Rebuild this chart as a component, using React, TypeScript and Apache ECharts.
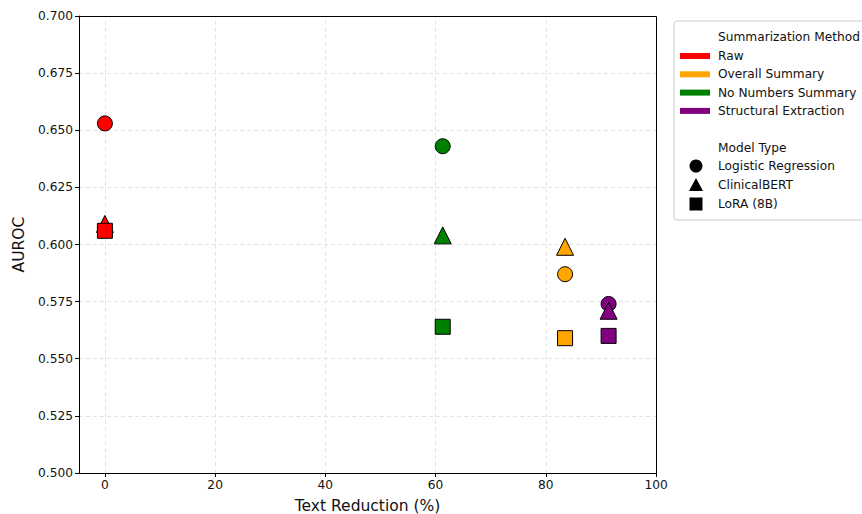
import React, { useEffect, useRef } from "react";
import * as echarts from "echarts";

const methods = ["Raw", "Overall Summary", "No Numbers Summary", "Structural Extraction"];
const methodColors = ["#ff0000", "#ffa500", "#008000", "#800080"];
const textReduction = [0, 83.5, 61.3, 91.4];
const logisticAuroc = [0.653, 0.587, 0.643, 0.574];
const clinicalBertAuroc = [0.609, 0.599, 0.604, 0.571];
const loraAuroc = [0.606, 0.559, 0.564, 0.560];
const modelTypes = ["Logistic Regression", "ClinicalBERT", "LoRA (8B)"];
const modelSymbols = ["circle", "triangle", "rect"];
const xTicks = [0, 20, 40, 60, 80, 100];

const FONT = "DejaVu Sans";

export default function App() {
  const ref = useRef<HTMLDivElement>(null);
  useEffect(() => {
    if (!ref.current) return;
    const chart = echarts.init(ref.current, null, { renderer: "svg" });
    const values = [logisticAuroc, clinicalBertAuroc, loraAuroc];
    const sizes = [15, 17, 15];
    const series: any[] = [
      {
        type: "scatter",
        data: [],
        silent: true,
        z: 0,
        markLine: {
          silent: true,
          z: 0,
          symbol: "none",
          label: { show: false },
          lineStyle: { color: "#dddddd", type: [4, 3], width: 0.8 },
          data: xTicks.map((t) => ({ xAxis: t })),
        },
      },
    ];
    modelTypes.forEach((m, mi) =>
      series.push({
        type: "scatter",
        name: m,
        symbol: modelSymbols[mi],
        symbolSize: sizes[mi],
        z: 5 + mi,
        data: methods.map((_, i) => ({
          value: [textReduction[i], values[mi][i]],
          itemStyle: { color: methodColors[i], borderColor: "#000", borderWidth: 1, opacity: 1 },
        })),
      })
    );
    const g: any[] = [];
    g.push({
      type: "rect",
      shape: { x: 79.5, y: 16.5, width: 577, height: 457 },
      style: { fill: "none", stroke: "#000", lineWidth: 1 },
      z: 20,
      silent: true,
    });
    g.push({
      type: "rect",
      shape: { x: 674, y: 21, width: 200, height: 199, r: 3 },
      style: { fill: "#fff", stroke: "#cccccc", lineWidth: 1 },
      z: 10,
    });
    const txt = (s: string, x: number, y: number) => ({
      type: "text",
      x,
      y,
      style: { text: s, font: `12.2px "${FONT}"`, fill: "#111", verticalAlign: "middle" },
      z: 11,
    });
    g.push(txt("Summarization Method", 718, 37));
    methods.forEach((m, i) => {
      const y = 56 + i * 18.3;
      g.push({
        type: "rect",
        shape: { x: 680, y: y - 3, width: 30, height: 6 },
        style: { fill: methodColors[i] },
        z: 11,
      });
      g.push(txt(m, 718, y));
    });
    g.push(txt("Model Type", 718, 148));
    const my = [166, 185, 204];
    g.push({ type: "circle", shape: { cx: 696, cy: my[0], r: 6.5 }, style: { fill: "#000" }, z: 11 });
    g.push({
      type: "polygon",
      shape: { points: [[696, my[1] - 7], [703, my[1] + 6], [689, my[1] + 6]] },
      style: { fill: "#000" },
      z: 11,
    });
    g.push({
      type: "rect",
      shape: { x: 689.5, y: my[2] - 6.5, width: 13, height: 13 },
      style: { fill: "#000" },
      z: 11,
    });
    modelTypes.forEach((m, i) => g.push(txt(m, 718, my[i])));

    chart.setOption({
      animation: false,
      backgroundColor: "#fff",
      grid: {
        left: 79,
        right: 206,
        top: 16,
        bottom: 41,
        outerBoundsMode: "none",
        containLabel: false,
        show: false,
      },
      xAxis: {
        type: "value",
        min: -4.7,
        max: 100,
        name: "Text Reduction (%)",
        nameLocation: "middle",
        nameGap: 25,
        nameTextStyle: { fontFamily: FONT, fontSize: 15.5, color: "#111" },
        axisLine: { show: true, onZero: false, lineStyle: { color: "#000" } },
        axisTick: { show: true, length: 4, lineStyle: { color: "#000" }, customValues: xTicks },
        axisLabel: { fontFamily: FONT, fontSize: 12.2, color: "#111", margin: 6, customValues: xTicks },
        splitLine: { show: false },
      },
      yAxis: {
        type: "value",
        min: 0.5,
        max: 0.7,
        interval: 0.025,
        name: "AUROC",
        nameLocation: "middle",
        nameGap: 50,
        nameTextStyle: { fontFamily: FONT, fontSize: 15.5, color: "#111" },
        axisLine: { show: true, onZero: false, lineStyle: { color: "#000" } },
        axisTick: { show: true, length: 4, lineStyle: { color: "#000" } },
        axisLabel: {
          fontFamily: FONT,
          fontSize: 12.2,
          color: "#111",
          margin: 6,
          formatter: (v: number) => v.toFixed(3),
        },
        splitLine: { show: true, lineStyle: { color: "#dddddd", type: [4, 3], width: 0.8 } },
      },
      graphic: g,
      series,
    });
    return () => chart.dispose();
  }, []);
  return <div ref={ref} style={{ width: 862, height: 514, position: "absolute", left: 0, top: 0 }} />;
}
